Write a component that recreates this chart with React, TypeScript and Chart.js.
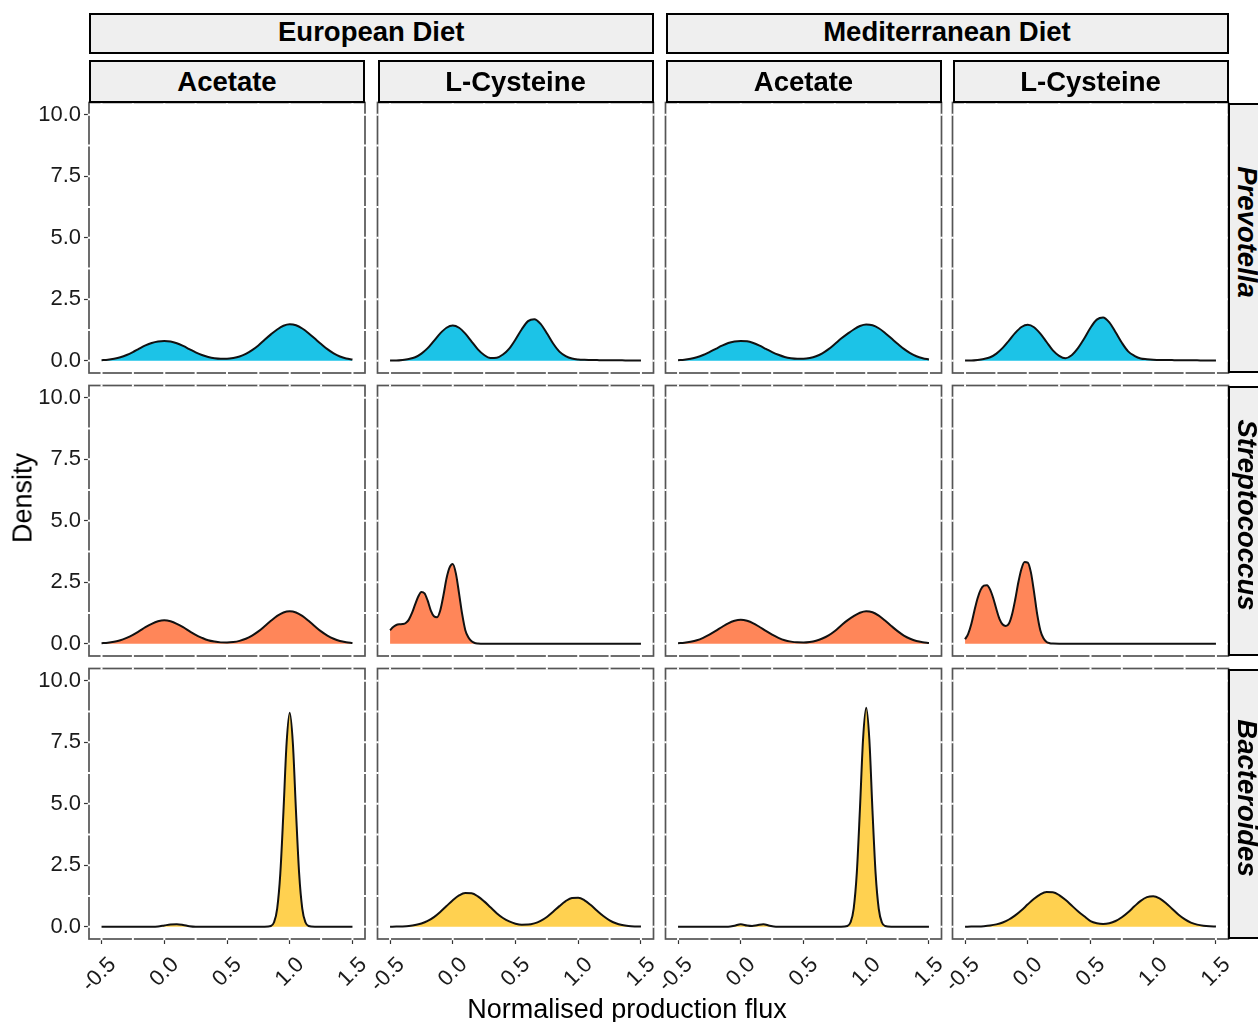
import React, { useEffect, useRef } from "react";
import { Chart, registerables } from "chart.js";

Chart.register(...registerables);

// ---------- labels ----------
const dietLabels = ["European Diet", "Mediterranean Diet"];
const metaboliteLabels = ["Acetate", "L-Cysteine", "Acetate", "L-Cysteine"];
const genusLabels = ["Prevotella", "Streptococcus", "Bacteroides"];
const genusFills = ["#1CC3E7", "#FF8659", "#FFD150"];

// ---------- ticks ----------
const xTickValues = [-0.5, 0, 0.5, 1, 1.5];
const xTickLabels = ["-0.5", "0.0", "0.5", "1.0", "1.5"];
const yTickValues = [0, 2.5, 5, 7.5, 10];
const yTickLabels = ["0.0", "2.5", "5.0", "7.5", "10.0"];
const xGridValues = [-0.5, -0.25, 0, 0.25, 0.5, 0.75, 1, 1.25, 1.5];
const yGridValues = [0, 1.25, 2.5, 3.75, 5, 6.25, 7.5, 8.75, 10];

// ---------- data: x grids ----------
const fluxGrid = [
  -0.5, -0.45, -0.4, -0.35, -0.3, -0.25, -0.2, -0.15, -0.1, -0.05, 0, 0.05, 0.1, 0.15, 0.2, 0.25, 0.3, 0.35, 0.4,
  0.45, 0.5, 0.55, 0.6, 0.65, 0.7, 0.75, 0.8, 0.85, 0.9, 0.95, 1, 1.05, 1.1, 1.15, 1.2, 1.25, 1.3, 1.35, 1.4, 1.45,
  1.5,
];
const fluxFineCysteine = [
  -0.5, -0.475, -0.45, -0.425, -0.4, -0.375, -0.35, -0.325, -0.3, -0.275, -0.25, -0.225, -0.2, -0.175, -0.15, -0.125,
  -0.1, -0.075, -0.05, -0.025, 0, 0.025, 0.05, 0.075, 0.1, 0.125, 0.15, 0.175, 0.2, 0.25, 1.5,
];
const fluxBacteroidesEuAcetate = [
  -0.5, -0.1, -0.05, 0, 0.05, 0.1, 0.15, 0.2, 0.25, 0.8, 0.85, 0.875, 0.9, 0.925, 0.95, 0.975, 1, 1.025, 1.05, 1.075,
  1.1, 1.125, 1.15, 1.2, 1.5,
];
const fluxBacteroidesMedAcetate = [
  -0.5, -0.1, -0.05, 0, 0.05, 0.09, 0.13, 0.18, 0.23, 0.28, 0.8, 0.85, 0.875, 0.9, 0.925, 0.95, 0.975, 1, 1.025, 1.05,
  1.075, 1.1, 1.125, 1.15, 1.2, 1.5,
];

// ---------- data: densities ----------
const prevotellaEuAcetate = [
  0.02, 0.04, 0.08, 0.14, 0.23, 0.35, 0.49, 0.62, 0.72, 0.78, 0.8, 0.78, 0.71, 0.6, 0.47, 0.34, 0.23, 0.15, 0.1, 0.08,
  0.08, 0.11, 0.17, 0.28, 0.43, 0.62, 0.85, 1.07, 1.27, 1.42, 1.48, 1.44, 1.31, 1.12, 0.9, 0.68, 0.47, 0.3, 0.17, 0.09,
  0.05,
];
const prevotellaEuCysteine = [
  0.01, 0.01, 0.03, 0.07, 0.14, 0.29, 0.51, 0.81, 1.11, 1.34, 1.43, 1.34, 1.1, 0.78, 0.46, 0.23, 0.11, 0.12, 0.25,
  0.49, 0.86, 1.28, 1.61, 1.69, 1.5, 1.12, 0.7, 0.37, 0.19, 0.09, 0.05, 0.035, 0.03, 0.025, 0.02, 0.02, 0.015, 0.015,
  0.01, 0.01, 0.01,
];
const prevotellaMedAcetate = [
  0.02, 0.04, 0.08, 0.14, 0.23, 0.35, 0.48, 0.61, 0.72, 0.78, 0.8, 0.79, 0.72, 0.61, 0.48, 0.35, 0.24, 0.15, 0.1, 0.08,
  0.08, 0.11, 0.18, 0.3, 0.47, 0.68, 0.9, 1.09, 1.27, 1.41, 1.47, 1.44, 1.32, 1.13, 0.91, 0.69, 0.48, 0.31, 0.18, 0.1,
  0.05,
];
const prevotellaMedCysteine = [
  0.01, 0.01, 0.03, 0.07, 0.14, 0.29, 0.52, 0.82, 1.13, 1.37, 1.46, 1.36, 1.1, 0.76, 0.42, 0.2, 0.1, 0.22, 0.51, 0.9,
  1.34, 1.67, 1.76, 1.56, 1.16, 0.73, 0.38, 0.2, 0.09, 0.06, 0.04, 0.03, 0.03, 0.025, 0.02, 0.02, 0.015, 0.015, 0.01,
  0.01, 0.01,
];
const streptococcusEuAcetate = [
  0.02, 0.04, 0.08, 0.14, 0.24, 0.36, 0.51, 0.67, 0.81, 0.91, 0.95, 0.91, 0.81, 0.67, 0.51, 0.36, 0.24, 0.14, 0.086,
  0.054, 0.048, 0.067, 0.116, 0.2, 0.33, 0.5, 0.71, 0.93, 1.13, 1.27, 1.32, 1.27, 1.13, 0.93, 0.71, 0.5, 0.33, 0.2,
  0.11, 0.06, 0.03,
];
const streptococcusEuCysteine = [
  0.55, 0.68, 0.76, 0.79, 0.8, 0.84, 0.98, 1.25, 1.6, 1.92, 2.1, 2.05, 1.75, 1.35, 1.12, 1.08, 1.35, 1.95, 2.65, 3.1,
  3.24, 2.85, 2.05, 1.2, 0.55, 0.25, 0.1, 0.03, 0.01, 0, 0,
];
const streptococcusMedAcetate = [
  0.02, 0.04, 0.08, 0.14, 0.24, 0.37, 0.52, 0.68, 0.83, 0.93, 0.97, 0.93, 0.83, 0.68, 0.52, 0.37, 0.24, 0.14, 0.085,
  0.055, 0.05, 0.07, 0.12, 0.21, 0.34, 0.52, 0.74, 0.95, 1.12, 1.26, 1.32, 1.28, 1.14, 0.94, 0.72, 0.51, 0.33, 0.2,
  0.11, 0.06, 0.03,
];
const streptococcusMedCysteine = [
  0.18, 0.4, 0.8, 1.35, 1.85, 2.2, 2.36, 2.38, 2.2, 1.85, 1.4, 1.0, 0.78, 0.72, 0.82, 1.2, 1.8, 2.5, 3.05, 3.32, 3.3,
  2.9, 2.1, 1.2, 0.55, 0.22, 0.07, 0.02, 0.005, 0, 0,
];
const bacteroidesEuAcetate = [
  0, 0, 0.01, 0.05, 0.09, 0.1, 0.07, 0.02, 0, 0, 0.03, 0.18, 0.74, 2.17, 4.69, 7.46, 8.7, 7.46, 4.69, 2.17, 0.74, 0.18,
  0.03, 0, 0,
];
const bacteroidesEuCysteine = [
  0.002, 0.005, 0.013, 0.03, 0.065, 0.13, 0.235, 0.39, 0.6, 0.84, 1.075, 1.27, 1.37, 1.36, 1.235, 1.03, 0.79, 0.55,
  0.355, 0.214, 0.123, 0.082, 0.085, 0.134, 0.237, 0.396, 0.607, 0.837, 1.04, 1.17, 1.18, 1.075, 0.88, 0.65, 0.435,
  0.26, 0.14, 0.069, 0.03, 0.012, 0.005,
];
const bacteroidesMedAcetate = [
  0, 0, 0.04, 0.1, 0.05, 0.03, 0.06, 0.1, 0.04, 0, 0, 0.03, 0.18, 0.74, 2.2, 4.8, 7.65, 8.9, 7.6, 4.7, 2.15, 0.72,
  0.17, 0.03, 0, 0,
];
const bacteroidesMedCysteine = [
  0.001, 0.004, 0.009, 0.022, 0.047, 0.094, 0.172, 0.293, 0.46, 0.67, 0.91, 1.137, 1.316, 1.41, 1.4, 1.287, 1.093,
  0.862, 0.628, 0.423, 0.23, 0.142, 0.112, 0.142, 0.231, 0.383, 0.59, 0.828, 1.052, 1.204, 1.243, 1.155, 0.968, 0.731,
  0.497, 0.305, 0.168, 0.084, 0.038, 0.015, 0.006,
];

// rows = genus, columns = diet x metabolite
const panelX = [
  [fluxGrid, fluxGrid, fluxGrid, fluxGrid],
  [fluxGrid, fluxFineCysteine, fluxGrid, fluxFineCysteine],
  [fluxBacteroidesEuAcetate, fluxGrid, fluxBacteroidesMedAcetate, fluxGrid],
];
const panelY = [
  [prevotellaEuAcetate, prevotellaEuCysteine, prevotellaMedAcetate, prevotellaMedCysteine],
  [streptococcusEuAcetate, streptococcusEuCysteine, streptococcusMedAcetate, streptococcusMedCysteine],
  [bacteroidesEuAcetate, bacteroidesEuCysteine, bacteroidesMedAcetate, bacteroidesMedCysteine],
];

// ---------- layout ----------
const COL_LEFTS = [89, 377.5, 665.5, 952.5];
const ROW_TOPS = [102.5, 385.5, 668.5];
const PANEL_W = 276;
const PANEL_H = 270.5;
const PAGE_W = 1258;
const PAGE_H = 1022;
const FONT = "'Liberation Sans', Arial, Helvetica, sans-serif";

const panelFrame = {
  id: "panelFrame",
  beforeDatasetsDraw(chart: any) {
    const { ctx, chartArea: a, scales } = chart;
    const xs = scales.x;
    const ys = scales.y;
    ctx.save();
    ctx.strokeStyle = "#555555";
    ctx.lineWidth = 1.7;
    ctx.strokeRect(a.left, a.top, a.right - a.left, a.bottom - a.top);
    ctx.strokeStyle = "#ffffff";
    ctx.lineWidth = 2;
    ctx.beginPath();
    for (const v of xGridValues) {
      const px = xs.getPixelForValue(v);
      ctx.moveTo(px, a.top - 1.2);
      ctx.lineTo(px, a.top + 1.2);
      ctx.moveTo(px, a.bottom - 1.2);
      ctx.lineTo(px, a.bottom + 1.2);
    }
    for (const v of yGridValues) {
      const py = ys.getPixelForValue(v);
      ctx.moveTo(a.left - 1.2, py);
      ctx.lineTo(a.left + 1.2, py);
      ctx.moveTo(a.right - 1.2, py);
      ctx.lineTo(a.right + 1.2, py);
    }
    ctx.stroke();
    ctx.restore();
  },
};

function zeroPadding(s: any) {
  s.paddingLeft = 0;
  s.paddingRight = 0;
  s.paddingTop = 0;
  s.paddingBottom = 0;
}

function Panel({ row, col }: { row: number; col: number }) {
  const ref = useRef<HTMLCanvasElement | null>(null);
  const panelLeft = COL_LEFTS[col];
  const panelTop = ROW_TOPS[row];
  const canvasLeft = col === 0 ? 0 : Math.floor(panelLeft) - 4;
  const canvasTop = Math.floor(panelTop) - 4;
  const padL = panelLeft - canvasLeft;
  const padT = panelTop - canvasTop;
  const padB = row === 2 ? PAGE_H - (panelTop + PANEL_H) : 4;
  const width = Math.ceil(padL + PANEL_W + 4);
  const height = Math.ceil(padT + PANEL_H + padB);
  const padR = width - padL - PANEL_W;
  const showX = row === 2;
  const showY = col === 0;

  useEffect(() => {
    if (!ref.current) return;
    const xs = panelX[row][col];
    const ys = panelY[row][col];
    const chart = new Chart(ref.current, {
      type: "line",
      data: {
        datasets: [
          {
            data: xs.map((x, i) => ({ x, y: ys[i] })),
            borderColor: "#111111",
            borderWidth: 2,
            backgroundColor: genusFills[row],
            fill: "origin",
            pointRadius: 0,
            cubicInterpolationMode: "monotone",
          },
        ],
      },
      options: {
        animation: false,
        responsive: false,
        devicePixelRatio: 1,
        events: [],
        layout: { padding: { left: 0, top: padT, right: padR, bottom: 0 }, autoPadding: false },
        plugins: { legend: { display: false }, tooltip: { enabled: false }, title: { display: false } },
        scales: {
          x: {
            type: "linear",
            min: -0.6,
            max: 1.6,
            afterBuildTicks: (s: any) => {
              s.ticks = xTickValues.map((v) => ({ value: v }));
            },
            afterFit: (s: any) => {
              s.height = padB;
              zeroPadding(s);
            },
            border: { display: false },
            grid: {
              display: showX,
              drawOnChartArea: false,
              drawTicks: true,
              tickLength: 5,
              tickColor: "#333333",
              tickWidth: 1.2,
            },
            ticks: {
              display: showX,
              autoSkip: false,
              minRotation: 45,
              maxRotation: 45,
              padding: 8,
              labelOffset: 11,
              color: "#1a1a1a",
              font: { family: FONT, size: 22 },
              callback: (v: any) => xTickLabels[xTickValues.indexOf(Number(v))],
            },
          },
          y: {
            type: "linear",
            min: -0.5,
            max: 10.5,
            afterBuildTicks: (s: any) => {
              s.ticks = yTickValues.map((v) => ({ value: v }));
            },
            afterFit: (s: any) => {
              s.width = padL;
              zeroPadding(s);
            },
            border: { display: false },
            grid: {
              display: showY,
              drawOnChartArea: false,
              drawTicks: true,
              tickLength: 5,
              tickColor: "#333333",
              tickWidth: 1.2,
            },
            ticks: {
              display: showY,
              padding: 3,
              color: "#1a1a1a",
              font: { family: FONT, size: 22 },
              callback: (v: any) => yTickLabels[yTickValues.indexOf(Number(v))],
            },
          },
        },
      } as any,
      plugins: [panelFrame],
    });
    return () => chart.destroy();
  }, [row, col]);

  return (
    <canvas
      ref={ref}
      width={width}
      height={height}
      style={{ position: "absolute", left: canvasLeft, top: canvasTop, width, height }}
    />
  );
}

const stripBase: React.CSSProperties = {
  position: "absolute",
  boxSizing: "border-box",
  border: "2px solid #000",
  background: "#EFEFEF",
  display: "flex",
  alignItems: "center",
  justifyContent: "center",
  fontWeight: "bold",
  fontSize: 27.5,
  color: "#000",
  fontFamily: FONT,
  whiteSpace: "nowrap",
  overflow: "hidden",
};

export default function App() {
  const cells: JSX.Element[] = [];
  for (let r = 0; r < 3; r++) for (let c = 0; c < 4; c++) cells.push(<Panel key={`${r}-${c}`} row={r} col={c} />);

  return (
    <div
      style={{
        position: "absolute",
        left: 0,
        top: 0,
        width: PAGE_W,
        height: PAGE_H,
        overflow: "hidden",
        background: "#fff",
        fontFamily: FONT,
      }}
    >
      {cells}
      {dietLabels.map((d, i) => {
        const left = COL_LEFTS[i * 2];
        const right = COL_LEFTS[i * 2 + 1] + PANEL_W;
        return (
          <div key={d} style={{ ...stripBase, left, top: 12.5, width: right - left, height: 41.5, paddingBottom: 3 }}>
            {d}
          </div>
        );
      })}
      {metaboliteLabels.map((m, c) => (
        <div
          key={`m${c}`}
          style={{ ...stripBase, left: COL_LEFTS[c], top: 60, width: PANEL_W, height: 42.5, paddingTop: 2 }}
        >
          {m}
        </div>
      ))}
      {genusLabels.map((g, r) => (
        <div
          key={g}
          style={{
            ...stripBase,
            left: COL_LEFTS[3] + PANEL_W - 0.5,
            top: ROW_TOPS[r],
            width: 38,
            height: PANEL_H,
            paddingBottom: 12,
          }}
        >
          <span style={{ display: "inline-block", transform: "rotate(90deg)", fontStyle: "italic" }}>{g}</span>
        </div>
      ))}
      <div
        style={{
          position: "absolute",
          left: 23,
          top: 498,
          transform: "translate(-50%, -50%) rotate(-90deg)",
          fontSize: 27,
          color: "#000",
          whiteSpace: "nowrap",
        }}
      >
        Density
      </div>
      <div
        style={{
          position: "absolute",
          left: 627,
          top: 1009,
          transform: "translate(-50%, -50%)",
          fontSize: 27,
          color: "#000",
          whiteSpace: "nowrap",
        }}
      >
        Normalised production flux
      </div>
    </div>
  );
}
